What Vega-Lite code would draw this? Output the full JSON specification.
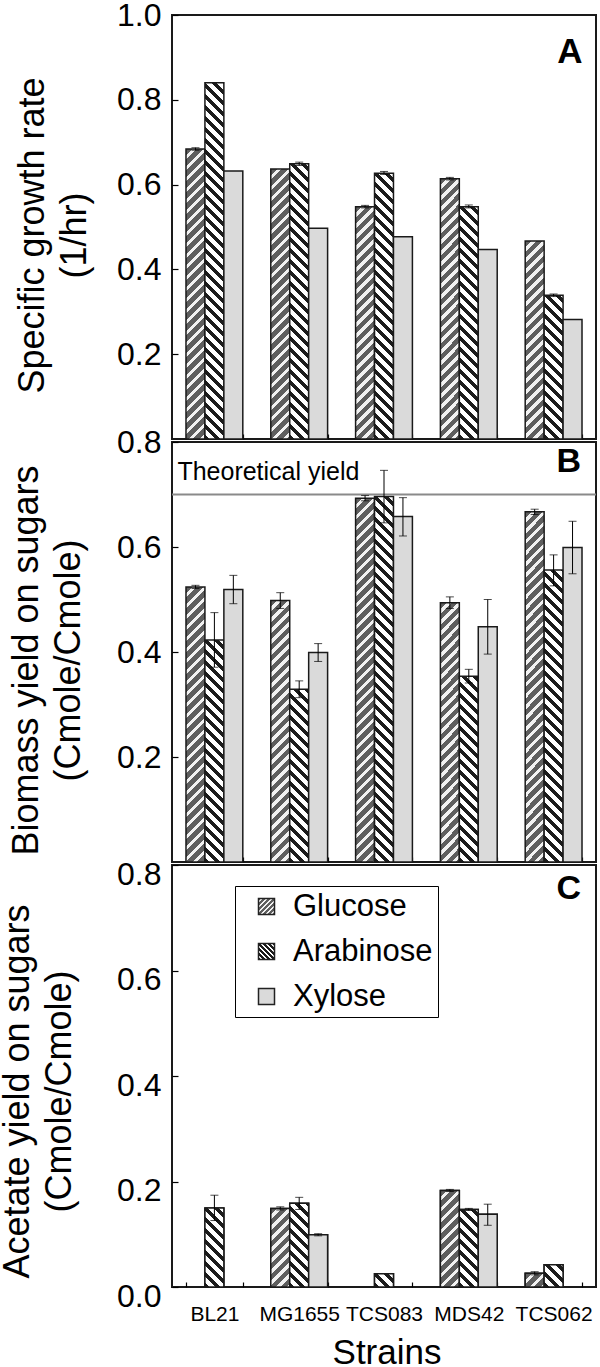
{
"$schema": "https://vega.github.io/schema/vega-lite/v6.json",
"autosize": {"type": "none"},
"padding": {"left": 172, "top": 15, "right": 4, "bottom": 1352},
"bounds": "flush",
"spacing": 3,
"params": [
{"name": "gStops", "value": [
{"offset":0,"color":"#5e5e5e"},{"offset":0.0167,"color":"#5e5e5e"},{"offset":0.0167,"color":"#f2f2f2"},{"offset":0.0278,"color":"#f2f2f2"},
{"offset":0.0278,"color":"#5e5e5e"},{"offset":0.0444,"color":"#5e5e5e"},{"offset":0.0444,"color":"#f2f2f2"},{"offset":0.0556,"color":"#f2f2f2"},
{"offset":0.0556,"color":"#5e5e5e"},{"offset":0.0722,"color":"#5e5e5e"},{"offset":0.0722,"color":"#f2f2f2"},{"offset":0.0833,"color":"#f2f2f2"},
{"offset":0.0833,"color":"#5e5e5e"},{"offset":0.1,"color":"#5e5e5e"},{"offset":0.1,"color":"#f2f2f2"},{"offset":0.1111,"color":"#f2f2f2"},
{"offset":0.1111,"color":"#5e5e5e"},{"offset":0.1278,"color":"#5e5e5e"},{"offset":0.1278,"color":"#f2f2f2"},{"offset":0.1389,"color":"#f2f2f2"},
{"offset":0.1389,"color":"#5e5e5e"},{"offset":0.1556,"color":"#5e5e5e"},{"offset":0.1556,"color":"#f2f2f2"},{"offset":0.1667,"color":"#f2f2f2"},
{"offset":0.1667,"color":"#5e5e5e"},{"offset":0.1833,"color":"#5e5e5e"},{"offset":0.1833,"color":"#f2f2f2"},{"offset":0.1944,"color":"#f2f2f2"},
{"offset":0.1944,"color":"#5e5e5e"},{"offset":0.2111,"color":"#5e5e5e"},{"offset":0.2111,"color":"#f2f2f2"},{"offset":0.2222,"color":"#f2f2f2"},
{"offset":0.2222,"color":"#5e5e5e"},{"offset":0.2389,"color":"#5e5e5e"},{"offset":0.2389,"color":"#f2f2f2"},{"offset":0.25,"color":"#f2f2f2"},
{"offset":0.25,"color":"#5e5e5e"},{"offset":0.2667,"color":"#5e5e5e"},{"offset":0.2667,"color":"#f2f2f2"},{"offset":0.2778,"color":"#f2f2f2"},
{"offset":0.2778,"color":"#5e5e5e"},{"offset":0.2944,"color":"#5e5e5e"},{"offset":0.2944,"color":"#f2f2f2"},{"offset":0.3056,"color":"#f2f2f2"},
{"offset":0.3056,"color":"#5e5e5e"},{"offset":0.3222,"color":"#5e5e5e"},{"offset":0.3222,"color":"#f2f2f2"},{"offset":0.3333,"color":"#f2f2f2"},
{"offset":0.3333,"color":"#5e5e5e"},{"offset":0.35,"color":"#5e5e5e"},{"offset":0.35,"color":"#f2f2f2"},{"offset":0.3611,"color":"#f2f2f2"},
{"offset":0.3611,"color":"#5e5e5e"},{"offset":0.3778,"color":"#5e5e5e"},{"offset":0.3778,"color":"#f2f2f2"},{"offset":0.3889,"color":"#f2f2f2"},
{"offset":0.3889,"color":"#5e5e5e"},{"offset":0.4056,"color":"#5e5e5e"},{"offset":0.4056,"color":"#f2f2f2"},{"offset":0.4167,"color":"#f2f2f2"},
{"offset":0.4167,"color":"#5e5e5e"},{"offset":0.4333,"color":"#5e5e5e"},{"offset":0.4333,"color":"#f2f2f2"},{"offset":0.4444,"color":"#f2f2f2"},
{"offset":0.4444,"color":"#5e5e5e"},{"offset":0.4611,"color":"#5e5e5e"},{"offset":0.4611,"color":"#f2f2f2"},{"offset":0.4722,"color":"#f2f2f2"},
{"offset":0.4722,"color":"#5e5e5e"},{"offset":0.4889,"color":"#5e5e5e"},{"offset":0.4889,"color":"#f2f2f2"},{"offset":0.5,"color":"#f2f2f2"},
{"offset":0.5,"color":"#5e5e5e"},{"offset":0.5167,"color":"#5e5e5e"},{"offset":0.5167,"color":"#f2f2f2"},{"offset":0.5278,"color":"#f2f2f2"},
{"offset":0.5278,"color":"#5e5e5e"},{"offset":0.5444,"color":"#5e5e5e"},{"offset":0.5444,"color":"#f2f2f2"},{"offset":0.5556,"color":"#f2f2f2"},
{"offset":0.5556,"color":"#5e5e5e"},{"offset":0.5722,"color":"#5e5e5e"},{"offset":0.5722,"color":"#f2f2f2"},{"offset":0.5833,"color":"#f2f2f2"},
{"offset":0.5833,"color":"#5e5e5e"},{"offset":0.6,"color":"#5e5e5e"},{"offset":0.6,"color":"#f2f2f2"},{"offset":0.6111,"color":"#f2f2f2"},
{"offset":0.6111,"color":"#5e5e5e"},{"offset":0.6278,"color":"#5e5e5e"},{"offset":0.6278,"color":"#f2f2f2"},{"offset":0.6389,"color":"#f2f2f2"},
{"offset":0.6389,"color":"#5e5e5e"},{"offset":0.6556,"color":"#5e5e5e"},{"offset":0.6556,"color":"#f2f2f2"},{"offset":0.6667,"color":"#f2f2f2"},
{"offset":0.6667,"color":"#5e5e5e"},{"offset":0.6833,"color":"#5e5e5e"},{"offset":0.6833,"color":"#f2f2f2"},{"offset":0.6944,"color":"#f2f2f2"},
{"offset":0.6944,"color":"#5e5e5e"},{"offset":0.7111,"color":"#5e5e5e"},{"offset":0.7111,"color":"#f2f2f2"},{"offset":0.7222,"color":"#f2f2f2"},
{"offset":0.7222,"color":"#5e5e5e"},{"offset":0.7389,"color":"#5e5e5e"},{"offset":0.7389,"color":"#f2f2f2"},{"offset":0.75,"color":"#f2f2f2"},
{"offset":0.75,"color":"#5e5e5e"},{"offset":0.7667,"color":"#5e5e5e"},{"offset":0.7667,"color":"#f2f2f2"},{"offset":0.7778,"color":"#f2f2f2"},
{"offset":0.7778,"color":"#5e5e5e"},{"offset":0.7944,"color":"#5e5e5e"},{"offset":0.7944,"color":"#f2f2f2"},{"offset":0.8056,"color":"#f2f2f2"},
{"offset":0.8056,"color":"#5e5e5e"},{"offset":0.8222,"color":"#5e5e5e"},{"offset":0.8222,"color":"#f2f2f2"},{"offset":0.8333,"color":"#f2f2f2"},
{"offset":0.8333,"color":"#5e5e5e"},{"offset":0.85,"color":"#5e5e5e"},{"offset":0.85,"color":"#f2f2f2"},{"offset":0.8611,"color":"#f2f2f2"},
{"offset":0.8611,"color":"#5e5e5e"},{"offset":0.8778,"color":"#5e5e5e"},{"offset":0.8778,"color":"#f2f2f2"},{"offset":0.8889,"color":"#f2f2f2"},
{"offset":0.8889,"color":"#5e5e5e"},{"offset":0.9056,"color":"#5e5e5e"},{"offset":0.9056,"color":"#f2f2f2"},{"offset":0.9167,"color":"#f2f2f2"},
{"offset":0.9167,"color":"#5e5e5e"},{"offset":0.9333,"color":"#5e5e5e"},{"offset":0.9333,"color":"#f2f2f2"},{"offset":0.9444,"color":"#f2f2f2"},
{"offset":0.9444,"color":"#5e5e5e"},{"offset":0.9611,"color":"#5e5e5e"},{"offset":0.9611,"color":"#f2f2f2"},{"offset":0.9722,"color":"#f2f2f2"},
{"offset":0.9722,"color":"#5e5e5e"},{"offset":0.9889,"color":"#5e5e5e"},{"offset":0.9889,"color":"#f2f2f2"},{"offset":1,"color":"#f2f2f2"}
]},
{"name": "aStops", "value": [
{"offset":0,"color":"#1c1c1c"},{"offset":0.0125,"color":"#1c1c1c"},{"offset":0.0125,"color":"#ffffff"},{"offset":0.0278,"color":"#ffffff"},
{"offset":0.0278,"color":"#1c1c1c"},{"offset":0.0403,"color":"#1c1c1c"},{"offset":0.0403,"color":"#ffffff"},{"offset":0.0556,"color":"#ffffff"},
{"offset":0.0556,"color":"#1c1c1c"},{"offset":0.0681,"color":"#1c1c1c"},{"offset":0.0681,"color":"#ffffff"},{"offset":0.0833,"color":"#ffffff"},
{"offset":0.0833,"color":"#1c1c1c"},{"offset":0.0958,"color":"#1c1c1c"},{"offset":0.0958,"color":"#ffffff"},{"offset":0.1111,"color":"#ffffff"},
{"offset":0.1111,"color":"#1c1c1c"},{"offset":0.1236,"color":"#1c1c1c"},{"offset":0.1236,"color":"#ffffff"},{"offset":0.1389,"color":"#ffffff"},
{"offset":0.1389,"color":"#1c1c1c"},{"offset":0.1514,"color":"#1c1c1c"},{"offset":0.1514,"color":"#ffffff"},{"offset":0.1667,"color":"#ffffff"},
{"offset":0.1667,"color":"#1c1c1c"},{"offset":0.1792,"color":"#1c1c1c"},{"offset":0.1792,"color":"#ffffff"},{"offset":0.1944,"color":"#ffffff"},
{"offset":0.1944,"color":"#1c1c1c"},{"offset":0.2069,"color":"#1c1c1c"},{"offset":0.2069,"color":"#ffffff"},{"offset":0.2222,"color":"#ffffff"},
{"offset":0.2222,"color":"#1c1c1c"},{"offset":0.2347,"color":"#1c1c1c"},{"offset":0.2347,"color":"#ffffff"},{"offset":0.25,"color":"#ffffff"},
{"offset":0.25,"color":"#1c1c1c"},{"offset":0.2625,"color":"#1c1c1c"},{"offset":0.2625,"color":"#ffffff"},{"offset":0.2778,"color":"#ffffff"},
{"offset":0.2778,"color":"#1c1c1c"},{"offset":0.2903,"color":"#1c1c1c"},{"offset":0.2903,"color":"#ffffff"},{"offset":0.3056,"color":"#ffffff"},
{"offset":0.3056,"color":"#1c1c1c"},{"offset":0.3181,"color":"#1c1c1c"},{"offset":0.3181,"color":"#ffffff"},{"offset":0.3333,"color":"#ffffff"},
{"offset":0.3333,"color":"#1c1c1c"},{"offset":0.3458,"color":"#1c1c1c"},{"offset":0.3458,"color":"#ffffff"},{"offset":0.3611,"color":"#ffffff"},
{"offset":0.3611,"color":"#1c1c1c"},{"offset":0.3736,"color":"#1c1c1c"},{"offset":0.3736,"color":"#ffffff"},{"offset":0.3889,"color":"#ffffff"},
{"offset":0.3889,"color":"#1c1c1c"},{"offset":0.4014,"color":"#1c1c1c"},{"offset":0.4014,"color":"#ffffff"},{"offset":0.4167,"color":"#ffffff"},
{"offset":0.4167,"color":"#1c1c1c"},{"offset":0.4292,"color":"#1c1c1c"},{"offset":0.4292,"color":"#ffffff"},{"offset":0.4444,"color":"#ffffff"},
{"offset":0.4444,"color":"#1c1c1c"},{"offset":0.4569,"color":"#1c1c1c"},{"offset":0.4569,"color":"#ffffff"},{"offset":0.4722,"color":"#ffffff"},
{"offset":0.4722,"color":"#1c1c1c"},{"offset":0.4847,"color":"#1c1c1c"},{"offset":0.4847,"color":"#ffffff"},{"offset":0.5,"color":"#ffffff"},
{"offset":0.5,"color":"#1c1c1c"},{"offset":0.5125,"color":"#1c1c1c"},{"offset":0.5125,"color":"#ffffff"},{"offset":0.5278,"color":"#ffffff"},
{"offset":0.5278,"color":"#1c1c1c"},{"offset":0.5403,"color":"#1c1c1c"},{"offset":0.5403,"color":"#ffffff"},{"offset":0.5556,"color":"#ffffff"},
{"offset":0.5556,"color":"#1c1c1c"},{"offset":0.5681,"color":"#1c1c1c"},{"offset":0.5681,"color":"#ffffff"},{"offset":0.5833,"color":"#ffffff"},
{"offset":0.5833,"color":"#1c1c1c"},{"offset":0.5958,"color":"#1c1c1c"},{"offset":0.5958,"color":"#ffffff"},{"offset":0.6111,"color":"#ffffff"},
{"offset":0.6111,"color":"#1c1c1c"},{"offset":0.6236,"color":"#1c1c1c"},{"offset":0.6236,"color":"#ffffff"},{"offset":0.6389,"color":"#ffffff"},
{"offset":0.6389,"color":"#1c1c1c"},{"offset":0.6514,"color":"#1c1c1c"},{"offset":0.6514,"color":"#ffffff"},{"offset":0.6667,"color":"#ffffff"},
{"offset":0.6667,"color":"#1c1c1c"},{"offset":0.6792,"color":"#1c1c1c"},{"offset":0.6792,"color":"#ffffff"},{"offset":0.6944,"color":"#ffffff"},
{"offset":0.6944,"color":"#1c1c1c"},{"offset":0.7069,"color":"#1c1c1c"},{"offset":0.7069,"color":"#ffffff"},{"offset":0.7222,"color":"#ffffff"},
{"offset":0.7222,"color":"#1c1c1c"},{"offset":0.7347,"color":"#1c1c1c"},{"offset":0.7347,"color":"#ffffff"},{"offset":0.75,"color":"#ffffff"},
{"offset":0.75,"color":"#1c1c1c"},{"offset":0.7625,"color":"#1c1c1c"},{"offset":0.7625,"color":"#ffffff"},{"offset":0.7778,"color":"#ffffff"},
{"offset":0.7778,"color":"#1c1c1c"},{"offset":0.7903,"color":"#1c1c1c"},{"offset":0.7903,"color":"#ffffff"},{"offset":0.8056,"color":"#ffffff"},
{"offset":0.8056,"color":"#1c1c1c"},{"offset":0.8181,"color":"#1c1c1c"},{"offset":0.8181,"color":"#ffffff"},{"offset":0.8333,"color":"#ffffff"},
{"offset":0.8333,"color":"#1c1c1c"},{"offset":0.8458,"color":"#1c1c1c"},{"offset":0.8458,"color":"#ffffff"},{"offset":0.8611,"color":"#ffffff"},
{"offset":0.8611,"color":"#1c1c1c"},{"offset":0.8736,"color":"#1c1c1c"},{"offset":0.8736,"color":"#ffffff"},{"offset":0.8889,"color":"#ffffff"},
{"offset":0.8889,"color":"#1c1c1c"},{"offset":0.9014,"color":"#1c1c1c"},{"offset":0.9014,"color":"#ffffff"},{"offset":0.9167,"color":"#ffffff"},
{"offset":0.9167,"color":"#1c1c1c"},{"offset":0.9292,"color":"#1c1c1c"},{"offset":0.9292,"color":"#ffffff"},{"offset":0.9444,"color":"#ffffff"},
{"offset":0.9444,"color":"#1c1c1c"},{"offset":0.9569,"color":"#1c1c1c"},{"offset":0.9569,"color":"#ffffff"},{"offset":0.9722,"color":"#ffffff"},
{"offset":0.9722,"color":"#1c1c1c"},{"offset":0.9847,"color":"#1c1c1c"},{"offset":0.9847,"color":"#ffffff"},{"offset":1,"color":"#ffffff"}
]}
],
"datasets": {
"A": [
{"strain":"BL21","sugar":"Glucose","v":0.684,"lo":0.681,"hi":0.687},
{"strain":"BL21","sugar":"Arabinose","v":0.84},
{"strain":"BL21","sugar":"Xylose","v":0.632},
{"strain":"MG1655","sugar":"Glucose","v":0.637},
{"strain":"MG1655","sugar":"Arabinose","v":0.649,"lo":0.645,"hi":0.653},
{"strain":"MG1655","sugar":"Xylose","v":0.497},
{"strain":"TCS083","sugar":"Glucose","v":0.548,"lo":0.545,"hi":0.551},
{"strain":"TCS083","sugar":"Arabinose","v":0.627,"lo":0.624,"hi":0.631},
{"strain":"TCS083","sugar":"Xylose","v":0.477},
{"strain":"MDS42","sugar":"Glucose","v":0.614,"lo":0.611,"hi":0.617},
{"strain":"MDS42","sugar":"Arabinose","v":0.548,"lo":0.545,"hi":0.552},
{"strain":"MDS42","sugar":"Xylose","v":0.447},
{"strain":"TCS062","sugar":"Glucose","v":0.467},
{"strain":"TCS062","sugar":"Arabinose","v":0.339,"lo":0.336,"hi":0.342},
{"strain":"TCS062","sugar":"Xylose","v":0.282}
],
"B": [
{"strain":"BL21","sugar":"Glucose","v":0.524,"lo":0.521,"hi":0.527},
{"strain":"BL21","sugar":"Arabinose","v":0.423,"lo":0.371,"hi":0.475},
{"strain":"BL21","sugar":"Xylose","v":0.519,"lo":0.492,"hi":0.546},
{"strain":"MG1655","sugar":"Glucose","v":0.498,"lo":0.483,"hi":0.513},
{"strain":"MG1655","sugar":"Arabinose","v":0.329,"lo":0.313,"hi":0.345},
{"strain":"MG1655","sugar":"Xylose","v":0.399,"lo":0.382,"hi":0.416},
{"strain":"TCS083","sugar":"Glucose","v":0.693,"lo":0.688,"hi":0.698},
{"strain":"TCS083","sugar":"Arabinose","v":0.696,"lo":0.646,"hi":0.746},
{"strain":"TCS083","sugar":"Xylose","v":0.658,"lo":0.621,"hi":0.694},
{"strain":"MDS42","sugar":"Glucose","v":0.494,"lo":0.483,"hi":0.505},
{"strain":"MDS42","sugar":"Arabinose","v":0.354,"lo":0.341,"hi":0.367},
{"strain":"MDS42","sugar":"Xylose","v":0.448,"lo":0.396,"hi":0.5},
{"strain":"TCS062","sugar":"Glucose","v":0.667,"lo":0.662,"hi":0.672},
{"strain":"TCS062","sugar":"Arabinose","v":0.556,"lo":0.526,"hi":0.585},
{"strain":"TCS062","sugar":"Xylose","v":0.599,"lo":0.549,"hi":0.649}
],
"C": [
{"strain":"BL21","sugar":"Arabinose","v":0.15,"lo":0.126,"hi":0.174},
{"strain":"MG1655","sugar":"Glucose","v":0.149,"lo":0.146,"hi":0.152},
{"strain":"MG1655","sugar":"Arabinose","v":0.159,"lo":0.147,"hi":0.17},
{"strain":"MG1655","sugar":"Xylose","v":0.099,"lo":0.097,"hi":0.101},
{"strain":"TCS083","sugar":"Arabinose","v":0.025},
{"strain":"MDS42","sugar":"Glucose","v":0.183,"lo":0.181,"hi":0.185},
{"strain":"MDS42","sugar":"Arabinose","v":0.147,"lo":0.145,"hi":0.149},
{"strain":"MDS42","sugar":"Xylose","v":0.138,"lo":0.117,"hi":0.157},
{"strain":"TCS062","sugar":"Glucose","v":0.026,"lo":0.023,"hi":0.029},
{"strain":"TCS062","sugar":"Arabinose","v":0.042}
]
},
"config": {
"font": "Liberation Sans",
"view": {"stroke": "#1a1a1a", "strokeWidth": 2},
"axis": {"grid": false, "domain": false, "tickColor": "#000", "tickWidth": 1.2, "labelColor": "#000", "titleColor": "#000", "titleFontWeight": "normal", "labelFont": "Liberation Sans", "titleFont": "Liberation Sans"},
"bar": {"stroke": "#1a1a1a", "strokeWidth": 1.5},
"text": {"font": "Liberation Sans", "color": "#000"}
},
"vconcat": [
{
"name": "pA",
"width": 424, "height": 424,
"data": {"name": "A"},
"resolve": {"axis": {"x": "independent", "y": "independent"}},
"layer": [
{"mark": {"type": "bar", "fill": {"expr": "datum.sugar === 'Glucose' ? {gradient: 'linear', x1: 0, y1: 0, x2: 7524 / (361 + pow(424 * datum.v, 2)), y2: 167904 * datum.v / (361 + pow(424 * datum.v, 2)), stops: gStops} : datum.sugar === 'Arabinose' ? {gradient: 'linear', x1: 0, y1: 1, x2: 7524 / (361 + pow(424 * datum.v, 2)), y2: 1 - 167904 * datum.v / (361 + pow(424 * datum.v, 2)), stops: aStops} : '#dadada'"}},
 "encoding": {
  "x": {"field": "strain", "type": "nominal", "sort": null, "scale": {"domain": ["BL21","MG1655","TCS083","MDS42","TCS062"], "paddingInner": 0.33, "paddingOuter": 0.165}, "axis": {"orient": "bottom", "labels": false, "title": null, "tickSize": -5, "tickBand": "extent"}},
  "xOffset": {"field": "sugar", "type": "nominal", "sort": null, "scale": {"domain": ["Glucose","Arabinose","Xylose"]}},
  "y": {"field": "v", "type": "quantitative", "scale": {"domain": [0, 1], "nice": false}, "axis": {"orient": "left", "values": [0.2,0.4,0.6,0.8,1], "format": ".1f", "tickSize": -6, "labelFontSize": 32, "labelPadding": 17, "title": ["Specific growth rate", "(1/hr)"], "titleFontSize": 36, "titleX": -129, "titleY": 220, "titleAngle": 270, "titleAlign": "center", "titleBaseline": "alphabetic", "titleLineHeight": 42}}}},
{"mark": {"type": "rule", "color": "#000", "strokeWidth": 1},
 "encoding": {"x": {"field": "strain", "type": "nominal", "sort": null, "axis": null}, "xOffset": {"field": "sugar", "type": "nominal", "sort": null}, "y": {"field": "lo", "type": "quantitative", "axis": null}, "y2": {"field": "hi"}}},
{"mark": {"type": "tick", "color": "#000", "thickness": 1, "size": 8},
 "encoding": {"x": {"field": "strain", "type": "nominal", "sort": null, "axis": null}, "xOffset": {"field": "sugar", "type": "nominal", "sort": null}, "y": {"field": "lo", "type": "quantitative", "axis": null}}},
{"mark": {"type": "tick", "color": "#000", "thickness": 1, "size": 8},
 "encoding": {"x": {"field": "strain", "type": "nominal", "sort": null, "axis": null}, "xOffset": {"field": "sugar", "type": "nominal", "sort": null}, "y": {"field": "hi", "type": "quantitative", "axis": null}}},
{"data": {"values": [{"label": "A"}]},
 "mark": {"type": "text", "fontSize": 35, "fontWeight": "bold", "align": "right", "baseline": "alphabetic", "dx": 29, "dy": 48},
 "encoding": {"text": {"field": "label"}, "x": {"datum": "TCS062", "type": "nominal", "axis": null}, "y": {"datum": 1, "type": "quantitative", "axis": null}}}
]
},
{
"name": "pB",
"width": 424, "height": 420,
"data": {"name": "B"},
"resolve": {"axis": {"x": "independent", "y": "independent"}},
"layer": [
{"mark": {"type": "bar", "fill": {"expr": "datum.sugar === 'Glucose' ? {gradient: 'linear', x1: 0, y1: 0, x2: 7524 / (361 + pow(525 * datum.v, 2)), y2: 207900 * datum.v / (361 + pow(525 * datum.v, 2)), stops: gStops} : datum.sugar === 'Arabinose' ? {gradient: 'linear', x1: 0, y1: 1, x2: 7524 / (361 + pow(525 * datum.v, 2)), y2: 1 - 207900 * datum.v / (361 + pow(525 * datum.v, 2)), stops: aStops} : '#dadada'"}},
 "encoding": {
  "x": {"field": "strain", "type": "nominal", "sort": null, "scale": {"domain": ["BL21","MG1655","TCS083","MDS42","TCS062"], "paddingInner": 0.33, "paddingOuter": 0.165}, "axis": {"orient": "bottom", "labels": false, "title": null, "tickSize": -5, "tickBand": "extent"}},
  "xOffset": {"field": "sugar", "type": "nominal", "sort": null, "scale": {"domain": ["Glucose","Arabinose","Xylose"]}},
  "y": {"field": "v", "type": "quantitative", "scale": {"domain": [0, 0.8], "nice": false}, "axis": {"orient": "left", "values": [0.2,0.4,0.6,0.8], "format": ".1f", "tickSize": -6, "labelFontSize": 32, "labelPadding": 17, "title": ["Biomass yield on sugars", "(Cmole/Cmole)"], "titleFontSize": 36, "titleX": -135, "titleY": 218, "titleAngle": 270, "titleAlign": "center", "titleBaseline": "alphabetic", "titleLineHeight": 42}}}},
{"data": {"values": [{"ty": 0.7}]},
 "mark": {"type": "rule", "color": "#8a8a8a", "strokeWidth": 2},
 "encoding": {"y": {"field": "ty", "type": "quantitative", "axis": null}}},
{"mark": {"type": "rule", "color": "#000", "strokeWidth": 1},
 "encoding": {"x": {"field": "strain", "type": "nominal", "sort": null, "axis": null}, "xOffset": {"field": "sugar", "type": "nominal", "sort": null}, "y": {"field": "lo", "type": "quantitative", "axis": null}, "y2": {"field": "hi"}}},
{"mark": {"type": "tick", "color": "#000", "thickness": 1, "size": 8},
 "encoding": {"x": {"field": "strain", "type": "nominal", "sort": null, "axis": null}, "xOffset": {"field": "sugar", "type": "nominal", "sort": null}, "y": {"field": "lo", "type": "quantitative", "axis": null}}},
{"mark": {"type": "tick", "color": "#000", "thickness": 1, "size": 8},
 "encoding": {"x": {"field": "strain", "type": "nominal", "sort": null, "axis": null}, "xOffset": {"field": "sugar", "type": "nominal", "sort": null}, "y": {"field": "hi", "type": "quantitative", "axis": null}}},
{"data": {"values": [{"label": "Theoretical yield"}]},
 "mark": {"type": "text", "fontSize": 25, "align": "left", "baseline": "alphabetic", "dx": -37, "dy": -14.5},
 "encoding": {"text": {"field": "label"}, "x": {"datum": "BL21", "type": "nominal", "axis": null}, "y": {"datum": 0.7, "type": "quantitative", "axis": null}}},
{"data": {"values": [{"label": "B"}]},
 "mark": {"type": "text", "fontSize": 34, "fontWeight": "bold", "align": "right", "baseline": "alphabetic", "dx": 27.5, "dy": 30},
 "encoding": {"text": {"field": "label"}, "x": {"datum": "TCS062", "type": "nominal", "axis": null}, "y": {"datum": 0.8, "type": "quantitative", "axis": null}}}
]
},
{
"name": "pC",
"width": 424, "height": 422,
"data": {"name": "C"},
"resolve": {"axis": {"x": "independent", "y": "independent"}},
"layer": [
{"mark": {"type": "bar"},
 "encoding": {
  "x": {"field": "strain", "type": "nominal", "sort": null, "scale": {"domain": ["BL21","MG1655","TCS083","MDS42","TCS062"], "paddingInner": 0.33, "paddingOuter": 0.165}, "axis": {"orient": "bottom", "labelFontSize": 21, "labelAngle": 0, "labelPadding": 21.2, "tickSize": -5, "tickBand": "extent", "title": "Strains", "titleFontSize": 35, "titleX": 214.5, "titleY": 76, "titleBaseline": "alphabetic"}},
  "xOffset": {"field": "sugar", "type": "nominal", "sort": null, "scale": {"domain": ["Glucose","Arabinose","Xylose"]}},
  "fill": {"field": "sugar", "type": "nominal", "scale": {"domain": ["Glucose","Arabinose","Xylose"], "range": [{"expr": "{gradient: 'linear', x1: 0, y1: 0, x2: 5.6, y2: 5.6, stops: gStops}"}, {"expr": "{gradient: 'linear', x1: 0, y1: 1, x2: 5.6, y2: -4.6, stops: aStops}"}, "#dadada"]},
   "legend": {"orient": "none", "legendX": 63, "legendY": 871, "title": null, "strokeColor": "#000", "fillColor": "#fff", "padding": 5, "symbolOffset": 11, "symbolSize": 256, "symbolType": "square", "symbolStrokeColor": "#222", "symbolStrokeWidth": 1.5, "labelFontSize": 31, "labelFont": "Liberation Sans", "labelColor": "#000", "labelOffset": 11, "rowPadding": 13, "labelLimit": 400}},
  "y": {"field": "v", "type": "quantitative", "scale": {"domain": [0, 0.8], "nice": false}, "axis": {"orient": "left", "values": [0,0.2,0.4,0.6,0.8], "format": ".1f", "tickSize": -6, "labelFontSize": 32, "labelPadding": 17, "labelOffset": 9, "title": ["Acetate yield on sugars", "(Cmole/Cmole)"], "titleFontSize": 36, "titleX": -144, "titleY": 226, "titleAngle": 270, "titleAlign": "center", "titleBaseline": "alphabetic", "titleLineHeight": 42}}}},
{"mark": {"type": "bar", "fill": {"expr": "datum.sugar === 'Glucose' ? {gradient: 'linear', x1: 0, y1: 0, x2: 7524 / (361 + pow(527.5 * datum.v, 2)), y2: 208890 * datum.v / (361 + pow(527.5 * datum.v, 2)), stops: gStops} : datum.sugar === 'Arabinose' ? {gradient: 'linear', x1: 0, y1: 1, x2: 7524 / (361 + pow(527.5 * datum.v, 2)), y2: 1 - 208890 * datum.v / (361 + pow(527.5 * datum.v, 2)), stops: aStops} : '#dadada'"}},
 "encoding": {"x": {"field": "strain", "type": "nominal", "sort": null, "axis": null}, "xOffset": {"field": "sugar", "type": "nominal", "sort": null}, "y": {"field": "v", "type": "quantitative", "axis": null}}},
{"mark": {"type": "rule", "color": "#000", "strokeWidth": 1},
 "encoding": {"x": {"field": "strain", "type": "nominal", "sort": null, "axis": null}, "xOffset": {"field": "sugar", "type": "nominal", "sort": null}, "y": {"field": "lo", "type": "quantitative", "axis": null}, "y2": {"field": "hi"}}},
{"mark": {"type": "tick", "color": "#000", "thickness": 1, "size": 8},
 "encoding": {"x": {"field": "strain", "type": "nominal", "sort": null, "axis": null}, "xOffset": {"field": "sugar", "type": "nominal", "sort": null}, "y": {"field": "lo", "type": "quantitative", "axis": null}}},
{"mark": {"type": "tick", "color": "#000", "thickness": 1, "size": 8},
 "encoding": {"x": {"field": "strain", "type": "nominal", "sort": null, "axis": null}, "xOffset": {"field": "sugar", "type": "nominal", "sort": null}, "y": {"field": "hi", "type": "quantitative", "axis": null}}},
{"data": {"values": [{"label": "C"}]},
 "mark": {"type": "text", "fontSize": 34, "fontWeight": "bold", "align": "right", "baseline": "alphabetic", "dx": 27.5, "dy": 34},
 "encoding": {"text": {"field": "label"}, "x": {"datum": "TCS062", "type": "nominal", "axis": null}, "y": {"datum": 0.8, "type": "quantitative", "axis": null}}}
]
}
]
}
